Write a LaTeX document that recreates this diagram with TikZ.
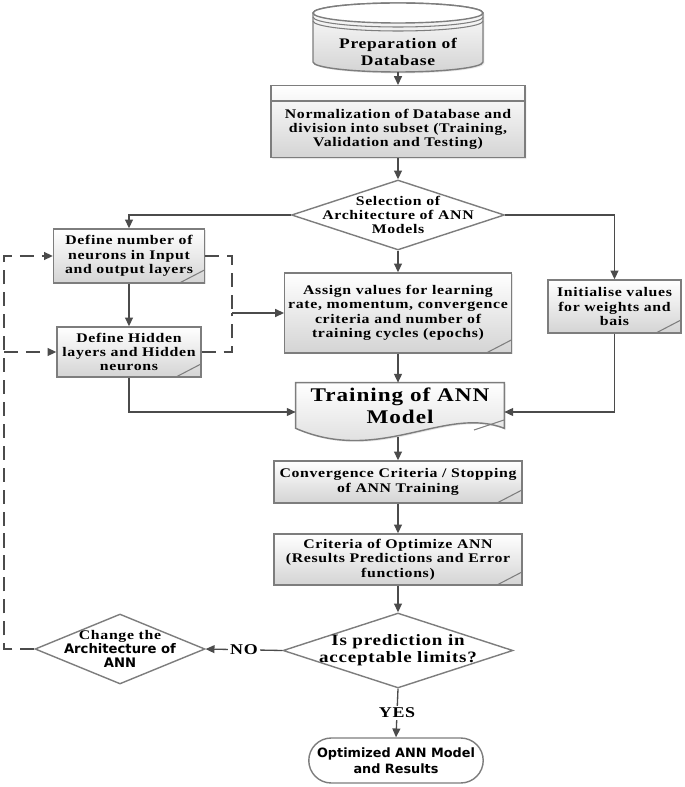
\documentclass[tikz,border=0pt]{standalone}
\usepackage{fontspec}
\setmainfont{Liberation Serif}[FakeStretch=1.2,LetterSpace=5]
\newfontfamily\termfont{DejaVu Sans}
\usetikzlibrary{shapes,arrows.meta,positioning,calc,backgrounds,shadows}
\definecolor{lineGray}{RGB}{75,75,75}
\definecolor{boxGray}{RGB}{125,125,125}
\definecolor{fillGray}{RGB}{212,212,212}

\tikzset{
  boxtext/.style={font=\fontsize{7.5}{8.2}\selectfont\bfseries, align=center},
  procbox/.style={boxtext, draw=boxGray, line width=0.8pt, top color=white, bottom color=fillGray,
    drop shadow={opacity=0.2,shadow xshift=0.8pt,shadow yshift=-0.8pt}, inner sep=2pt},
  notebox/.style={procbox, path picture={\draw[boxGray, line width=0.6pt]
    ([xshift=-0.5cm]path picture bounding box.south east) -- ([yshift=0.26cm]path picture bounding box.south east);}},
  decision/.style={diamond, draw=boxGray, line width=0.8pt, fill=white, inner sep=0pt},
  flow/.style={draw=lineGray, line width=0.75pt, -{Triangle[length=5pt,width=4.5pt]}},
  dashline/.style={draw=lineGray, line width=0.75pt, dash pattern=on 8pt off 4.5pt},
  loopline/.style={dashline, -{Triangle[length=5pt,width=4.5pt]}},
  elabel/.style={fill=white, font=\fontsize{8.5}{9}\selectfont\bfseries, inner sep=1pt},
}

\begin{document}
\begin{tikzpicture}[x=0.02cm,y=-0.02cm]
\useasboundingbox (0,0) rectangle (685,787);

% database
\path[draw=boxGray, line width=0.8pt, top color=white, bottom color=fillGray,
  drop shadow={opacity=0.2,shadow xshift=0.8pt,shadow yshift=-0.8pt}]
  (313,13) -- (313,62) arc[start angle=180,end angle=360,x radius=1.7cm,y radius=0.2cm]
  -- (483,13) arc[start angle=0,end angle=180,x radius=1.7cm,y radius=0.2cm] -- cycle;
\draw[boxGray, line width=0.8pt, fill=white] (398,13) ellipse[x radius=1.7cm,y radius=0.2cm];
\draw[boxGray, line width=0.6pt] (313,17) arc[start angle=180,end angle=360,x radius=1.7cm,y radius=0.2cm];
\draw[boxGray, line width=0.6pt] (313,21) arc[start angle=180,end angle=360,x radius=1.7cm,y radius=0.2cm];
\node[font=\fontsize{8.3}{10}\selectfont\bfseries, align=center] (db) at (398,52) {Preparation of\\Database};
\coordinate (dbB) at (398,72);

\node[procbox, anchor=north, rectangle split, rectangle split parts=2,
  rectangle split empty part height=1pt, rectangle split empty part depth=0pt,
  text width=4.92cm, inner xsep=0.08cm, inner ysep=4pt] (norm) at (398,85)
  {\nodepart{two}Normalization of Database and\\division into subset (Training,\\Validation and Testing)};

\node[decision, minimum width=4.26cm, minimum height=1.4cm,
  label={[boxtext]center:Selection of\\Architecture of ANN\\Models}] (sel) at (398,215) {};

\node[notebox, minimum width=3.02cm, minimum height=1.08cm] (defin) at (129,256)
  {Define number of\\neurons in Input\\and output layers};
\node[notebox, minimum width=2.88cm, minimum height=1.0cm] (hidden) at (129,352)
  {Define Hidden\\layers and Hidden\\neurons};
\node[notebox, minimum width=4.5cm, minimum height=1.6cm] (assign) at (398,313)
  {Assign values for learning\\rate, momentum, convergence\\criteria and number of\\training cycles (epochs)};
\node[notebox, minimum width=2.66cm, minimum height=1.06cm] (init) at (614.5,306.5)
  {Initialise values\\for weights and\\bais};

% training document
\node[font=\fontsize{11}{12.5}\selectfont\bfseries, align=center, minimum width=4.16cm,
  minimum height=0.9cm, inner sep=0pt] (train) at (400,405.5) {Training of ANN\\Model};
\begin{scope}[on background layer]
\draw[boxGray, line width=0.8pt, top color=white, bottom color=fillGray,
  drop shadow={opacity=0.2,shadow xshift=0.8pt,shadow yshift=-0.8pt}]
  (train.north west) -- (train.north east) -- (train.south east)
  .. controls (445,405) and (380,465) .. (train.south west) -- cycle;
\draw[boxGray, line width=0.6pt] (474,430) -- (504,420);
\end{scope}
\coordinate (trainBot) at (398,437);

\node[notebox, minimum width=4.96cm, minimum height=0.84cm] (conv) at (398,482)
  {Convergence Criteria / Stopping\\of ANN Training};
\node[notebox, minimum width=4.96cm, minimum height=1.02cm] (crit) at (398,559.5)
  {Criteria of Optimize ANN\\(Results Predictions and Error\\functions)};

\node[decision, minimum width=4.6cm, minimum height=1.5cm,
  label={[font=\fontsize{9}{9.8}\selectfont\bfseries, align=center]center:Is prediction in\\acceptable limits?}]
  (pred) at (398,650.5) {};
\node[decision, minimum width=3.4cm, minimum height=1.4cm,
  label={[boxtext]center:Change the\\{\termfont Architecture of}\\{\termfont ANN}}]
  (change) at (120,649) {};

\node[rounded rectangle, draw=boxGray, line width=0.8pt, fill=white, minimum width=3.56cm,
  minimum height=0.9cm, inner sep=1pt, align=center,
  font=\termfont\bfseries\fontsize{7.3}{9}\selectfont] (final) at (396,760.5)
  {Optimized ANN Model\\and Results};

\draw[flow] (dbB) -- (norm.north);
\draw[flow] (norm.south) -- (sel.north);
\draw[flow] (sel.west) -| (defin.north);
\draw[flow] (sel.east) -| (init.north);
\draw[flow] (sel.south) -- (assign.north);
\draw[flow] (defin.south) -- (hidden.north);
\draw[flow] (assign.south) -- (assign.south |- train.north);
\draw[flow] (hidden.south) |- ([yshift=-0.13cm]train.west);
\draw[flow] (init.south) |- ([yshift=-0.13cm]train.east);
\draw[flow] (trainBot) -- (conv.north);
\draw[flow] (conv.south) -- (crit.north);
\draw[flow] (crit.south) -- (pred.north);
\draw[flow] (pred.west) -- node[elabel] {NO} (change.east);
\draw[flow] (pred.south) -- node[elabel] {YES} (final.north);

% loop back
\coordinate (loopB) at (4,649);
\coordinate (loopT) at (4,256);
\coordinate (loopM) at (4,352);
\draw[loopline] (change.west) -- (loopB) -- (loopT) -- (defin.west);
\draw[loopline] (loopM) -- (hidden.west);
\coordinate (merge) at (232,313);
\draw[dashline] (defin.east) -| (merge);
\draw[dashline] (hidden.east) -| (merge);
\draw[flow] (merge) -- (assign.west);
\end{tikzpicture}
\end{document}
